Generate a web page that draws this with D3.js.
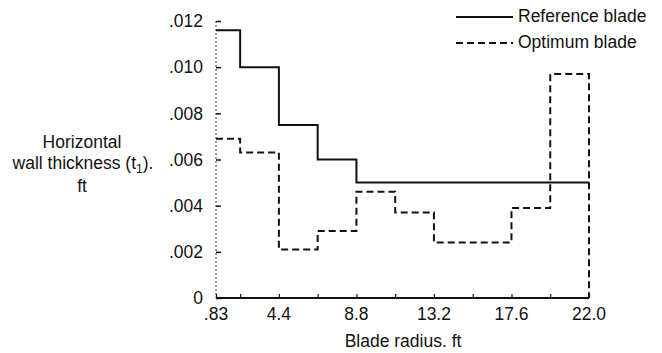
<!DOCTYPE html>
<html>
<head>
<meta charset="utf-8">
<script src="https://cdn.jsdelivr.net/npm/d3@7"></script>
<style>
  html, body { margin: 0; padding: 0; background: #fff; }
  svg { display: block; font-family: "Liberation Sans", Arial, Helvetica, sans-serif; }
  text { fill: #111; }
</style>
</head>
<body>
<svg id="chart" width="662" height="353"></svg>
<script>
// Segment boundaries along the blade radius (ft)
const boundaries = [0.83, 2.2, 4.4, 6.6, 8.8, 11.0, 13.2, 15.4, 17.6, 19.8, 22.0];
// Wall thickness per segment (ft)
const referenceBlade = [0.0116, 0.0100, 0.0075, 0.0060, 0.0050, 0.0050, 0.0050, 0.0050, 0.0050, 0.0050];
const optimumBlade   = [0.0069, 0.0063, 0.0021, 0.0029, 0.0046, 0.0037, 0.0024, 0.0024, 0.0039, 0.0097];
const xTickValues = [0.83, 4.4, 8.8, 13.2, 17.6, 22.0];
const xTickLabels = [".83", "4.4", "8.8", "13.2", "17.6", "22.0"];
const yTickValues = [0, 0.002, 0.004, 0.006, 0.008, 0.010, 0.012];
const yTickLabels = ["0", ".002", ".004", ".006", ".008", ".010", ".012"];
const seriesNames = ["Reference blade", "Optimum blade"];

const svg = d3.select("#chart");
const x = d3.scaleLinear().domain([0.83, 22.0]).range([216, 589]);
const y = d3.scaleLinear().domain([0, 0.012]).range([298, 21]);
const ink = "#111";
const FS = 17.5;

// Left axis (faint dotted, as in the scan)
svg.append("line")
  .attr("x1", x(0.83)).attr("x2", x(0.83))
  .attr("y1", y(0.012)).attr("y2", y(0))
  .attr("stroke", "#333").attr("stroke-width", 1)
  .attr("stroke-dasharray", "2,2");

// Y ticks pointing inward
const yAxis = d3.axisRight(y).tickValues(yTickValues).tickSize(5).tickFormat("");
const gy = svg.append("g").attr("transform", `translate(${x(0.83)},0)`).call(yAxis);
gy.select(".domain").remove();
gy.selectAll(".tick line").attr("stroke", ink).attr("stroke-width", 1.5);

// Y tick labels
svg.append("g").selectAll("text").data(yTickValues).join("text")
  .attr("x", 203).attr("y", d => y(d)).attr("dy", "0.36em")
  .attr("text-anchor", "end").attr("font-size", FS)
  .text((d, i) => yTickLabels[i]);

// X axis line
svg.append("line")
  .attr("x1", x(0.83)).attr("x2", x(22.0))
  .attr("y1", y(0)).attr("y2", y(0))
  .attr("stroke", ink).attr("stroke-width", 2);

// X ticks at segment boundaries, pointing inward
const xAxis = d3.axisTop(x).tickValues(boundaries).tickSize(4).tickFormat("");
const gx = svg.append("g").attr("transform", `translate(0,${y(0)})`).call(xAxis);
gx.select(".domain").remove();
gx.selectAll(".tick line").attr("stroke", ink).attr("stroke-width", 1.2);

// X tick labels
svg.append("g").selectAll("text").data(xTickValues).join("text")
  .attr("x", d => x(d)).attr("y", 320)
  .attr("text-anchor", "middle").attr("font-size", FS)
  .text((d, i) => xTickLabels[i]);

// X axis title
svg.append("text").attr("x", 403).attr("y", 347)
  .attr("text-anchor", "middle").attr("font-size", FS)
  .text("Blade radius. ft");

// Y axis title (three lines)
const yt = svg.append("g").attr("font-size", FS).attr("text-anchor", "middle");
yt.append("text").attr("x", 82).attr("y", 148).text("Horizontal");
const l2 = yt.append("text").attr("x", 83).attr("y", 169);
l2.append("tspan").text("wall thickness (t");
l2.append("tspan").attr("font-size", 12).attr("dy", 4).text("1");
l2.append("tspan").attr("dy", -4).text(").");
yt.append("text").attr("x", 82).attr("y", 192).text("ft");

// Step-function points
function stepPoints(vals) {
  const pts = vals.map((v, i) => [boundaries[i], v]);
  pts.push([boundaries[boundaries.length - 1], vals[vals.length - 1]]);
  return pts;
}
const line = d3.line().x(d => x(d[0])).y(d => y(d[1])).curve(d3.curveStepAfter);

// Reference blade (solid)
svg.append("path")
  .attr("d", line(stepPoints(referenceBlade)))
  .attr("fill", "none").attr("stroke", ink).attr("stroke-width", 2);

// Optimum blade (dashed), closing down to the axis at the tip
let d = line(stepPoints(optimumBlade));
d += "L" + x(22.0) + "," + y(0);
svg.append("path")
  .attr("d", d)
  .attr("fill", "none").attr("stroke", ink).attr("stroke-width", 2)
  .attr("stroke-dasharray", "7,4");

// Legend
const legend = svg.append("g");
legend.append("line").attr("x1", 456).attr("x2", 513).attr("y1", 17).attr("y2", 17)
  .attr("stroke", ink).attr("stroke-width", 2);
legend.append("line").attr("x1", 456).attr("x2", 513).attr("y1", 43).attr("y2", 43)
  .attr("stroke", ink).attr("stroke-width", 2).attr("stroke-dasharray", "7,4");
legend.append("text").attr("x", 518).attr("y", 22).attr("font-size", FS).text(seriesNames[0]);
legend.append("text").attr("x", 518).attr("y", 48).attr("font-size", FS).text(seriesNames[1]);
</script>
</body>
</html>
